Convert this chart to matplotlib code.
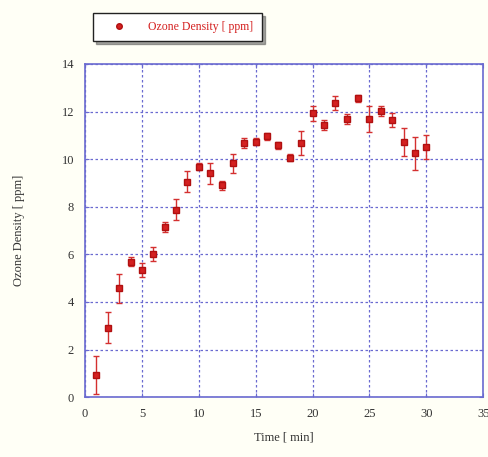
import matplotlib
matplotlib.use("Agg")
import matplotlib.pyplot as plt

# ---- data ----
time_min = list(range(1, 31))
ozone_ppm = [0.92, 2.91, 4.57, 5.69, 5.34, 6.0, 7.16, 7.88, 9.05, 9.68,
             9.4, 8.9, 9.82, 10.69, 10.73, 10.97, 10.59, 10.07, 10.69, 11.92,
             11.43, 12.37, 11.68, 12.55, 11.68, 12.02, 11.64, 10.73, 10.24, 10.52]
ozone_err = [0.8, 0.65, 0.6, 0.2, 0.3, 0.3, 0.2, 0.45, 0.45, 0.15,
             0.45, 0.2, 0.4, 0.2, 0.15, 0.15, 0.15, 0.15, 0.5, 0.3,
             0.2, 0.3, 0.2, 0.15, 0.55, 0.2, 0.3, 0.6, 0.7, 0.5]
x_ticks = [0, 5, 10, 15, 20, 25, 30, 35]
y_ticks = [0, 2, 4, 6, 8, 10, 12, 14]

plt.rcParams["font.family"] = ["Liberation Serif", "DejaVu Serif"]
bg = "#fffff6"
blue = "#6a6ad0"
red = "#d42020"

fig = plt.figure(figsize=(4.89, 4.57), dpi=100, facecolor=bg)
ax = fig.add_axes([0.174, 0.131, 0.814, 0.729], facecolor="white")

ax.errorbar(time_min, ozone_ppm, yerr=ozone_err, fmt="s", color=red,
            ms=4.5, mec="#b01010", ecolor="#d43030", elinewidth=1.0,
            capsize=2, capthick=1.0, zorder=3)
# legend handle: marker only
proxy, = ax.plot([], [], "o", color=red, ms=4, mec="#b01010",
                 label="Ozone Density [ ppm]")

ax.set_xlim(0, 35)
ax.set_ylim(0, 14)
ax.set_xticks(x_ticks)
ax.set_yticks(y_ticks)
ax.grid(True, color=blue, linestyle=(0, (2, 2)), linewidth=0.9)
for s in ax.spines.values():
    s.set_color(blue)
    s.set_linewidth(1.2)
ax.tick_params(direction="in", color=blue, length=3, labelsize=9,
               labelcolor="#333333", top=True, right=True, pad=8)

ax.set_xlabel("Time [ min]", fontsize=9, color="#333333", labelpad=8)
ax.set_ylabel("Ozone Density [ ppm]", fontsize=9, color="#333333", labelpad=26)

leg = fig.legend(handles=[proxy], loc="upper left", bbox_to_anchor=(0.178, 0.985),
                 fontsize=8.5, frameon=True, shadow=True, fancybox=False,
                 handletextpad=1.0, borderpad=0.7, handlelength=3.0)
leg.get_frame().set_edgecolor("#222222")
for t in leg.get_texts():
    t.set_color(red)

fig.savefig("out.png", dpi=100, facecolor=bg)
